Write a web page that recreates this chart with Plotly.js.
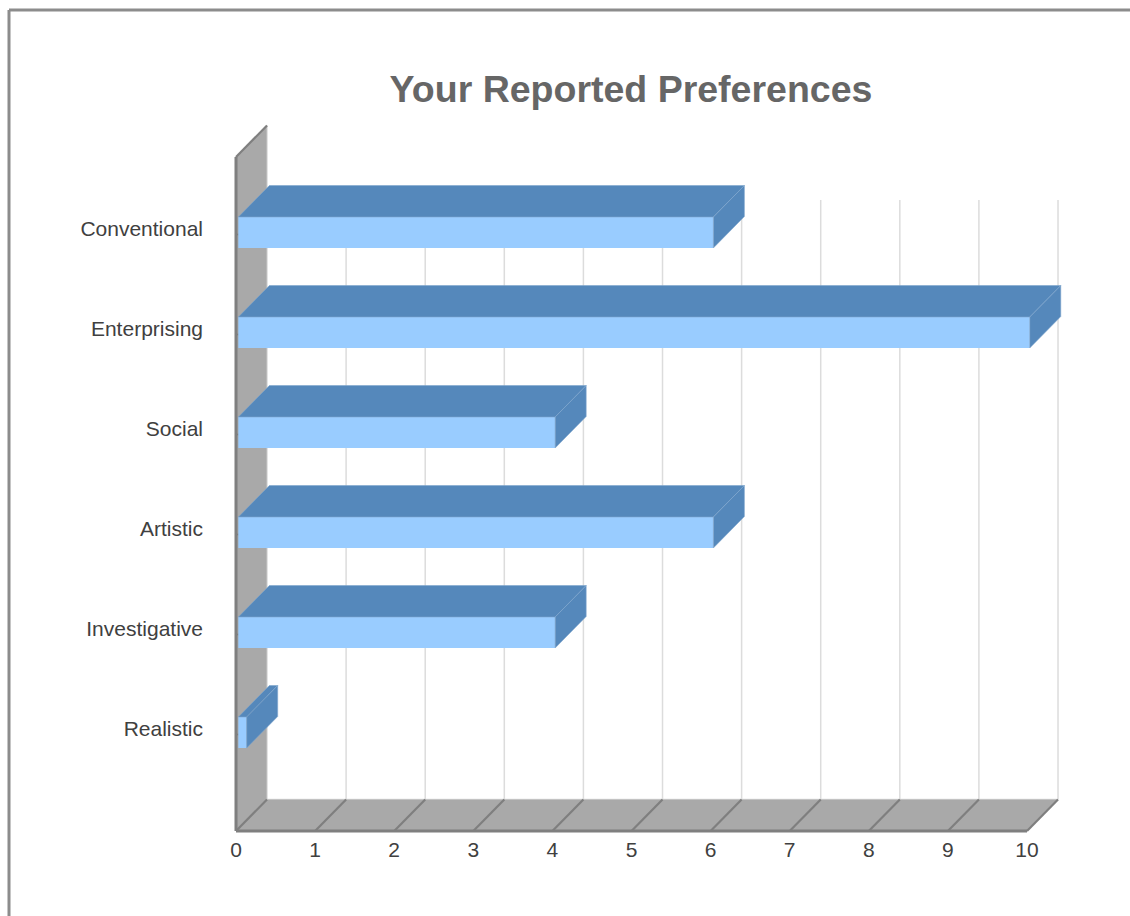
<!DOCTYPE html>
<html>
<head>
<meta charset="utf-8">
<script src="https://cdn.plot.ly/plotly-3.0.1.min.js"></script>
<style>html,body{margin:0;padding:0;background:#fff;overflow:hidden}#chart{width:1130px;height:916px}</style>
</head>
<body>
<div id="chart"></div>
<script>
// Data
const categories = ["Realistic", "Investigative", "Artistic", "Social", "Enterprising", "Conventional"];
const values = [0.1, 4, 6, 4, 10, 6];
const xTicks = [0, 1, 2, 3, 4, 5, 6, 7, 8, 9, 10];
const chartTitle = "Your Reported Preferences";

// Pseudo-3D constants in axis units
const DX = 0.392, DY = 0.315;
const BAR_START = 0.03, BAR_END_PAD = 0.035, BAR_H = 0.31;
const WALL_TOP = 5.755, FLOOR = -0.985, GRID_TOP = 5.325;
const XMAX = xTicks[xTicks.length - 1];

const W = 1130, H = 916;
const mL = 226, mR = 66, mT = 120, mB = 81;
const pxPerX = 79.1, pxPerY = 100;
const xRange = [-(236 - mL) / pxPerX, (W - mR - 236) / pxPerX];
const yRange = [(732.5 - (H - mB)) / pxPerY, (732.5 - mT) / pxPerY];
const px = p => (p - mL) / (W - mL - mR);
const py = p => 1 - (p - mT) / (H - mT - mB);

const cat = categories.map((_, i) => i);
const FRONT = "#99ccff", DARK = "#5588bb", EDGE = "#7fa6cc";
const WALL = "#a9a9a9", AXIS = "#7f7f7f", GRID = "#dcdcdc";

const topX = [], topY = [], sideX = [], sideY = [];
values.forEach((v, i) => {
  const x0 = BAR_START, x1 = v + BAR_END_PAD, yT = i + BAR_H / 2, yB = i - BAR_H / 2;
  topX.push(x0, x1, x1 + DX, x0 + DX, x0, null);
  topY.push(yT, yT, yT + DY, yT + DY, yT, null);
  sideX.push(x1, x1 + DX, x1 + DX, x1, x1, null);
  sideY.push(yT, yT + DY, yB + DY, yB, yT, null);
});

const traces = [
  { type: "bar", orientation: "h", y: cat, x: values.map(v => v + BAR_END_PAD - BAR_START), base: BAR_START,
    width: BAR_H, marker: { color: FRONT, line: { width: 0 } }, hoverinfo: "skip", showlegend: false },
  { type: "scatter", mode: "lines", x: topX, y: topY, fill: "toself", fillcolor: DARK,
    line: { color: EDGE, width: 0.6 }, hoverinfo: "skip", showlegend: false },
  { type: "scatter", mode: "lines", x: sideX, y: sideY, fill: "toself", fillcolor: DARK,
    line: { color: EDGE, width: 0.6 }, hoverinfo: "skip", showlegend: false }
];

const line = (x0, y0, x1, y1, color, width) => ({ type: "line", xref: "x", yref: "y", x0, y0, x1, y1, layer: "below", line: { color, width } });
const poly = (pts, color) => ({ type: "path", xref: "x", yref: "y", layer: "below", fillcolor: color, line: { width: 0 },
  path: "M" + pts.map(p => p.join(",")).join("L") + "Z" });

const shapes = [];
// grid on the back wall
xTicks.forEach(t => { if (t > 0) shapes.push(line(t + DX, FLOOR + DY, t + DX, GRID_TOP, GRID, 1.5)); });
shapes.push(line(DX, FLOOR + DY, XMAX + DX, FLOOR + DY, GRID, 1.5));
// side wall and floor
shapes.push(poly([[0, WALL_TOP], [DX, WALL_TOP + DY], [DX, FLOOR + DY], [0, FLOOR]], WALL));
shapes.push(poly([[0, FLOOR], [DX, FLOOR + DY], [XMAX + DX, FLOOR + DY], [XMAX, FLOOR]], WALL));
shapes.push(line(DX, WALL_TOP + DY, DX, FLOOR + DY, "#c8c8c8", 1));
// floor diagonals
xTicks.forEach(t => shapes.push(line(t, FLOOR, t + DX, FLOOR + DY, AXIS, 2.2)));
// axis edges
shapes.push(line(0, FLOOR, 0, WALL_TOP, AXIS, 3));
shapes.push(line(0, WALL_TOP, DX, WALL_TOP + DY, AXIS, 2.2));
shapes.push(line(0, FLOOR, XMAX, FLOOR, AXIS, 3));
// little y ticks
cat.forEach(i => shapes.push(line(0, i - 0.02, 0.03, i - 0.02, AXIS, 1.5)));
// outer frame (cropped by the page on the right and bottom)
const frame = (x0, y0, x1, y1) => ({ type: "line", xref: "paper", yref: "paper", x0: px(x0), y0: py(y0), x1: px(x1), y1: py(y1),
  layer: "below", line: { color: "#8c8c8c", width: 3 } });
shapes.push(frame(9, 10, 1130, 10));
shapes.push(frame(9, 10, 9, 916));

const font = { family: "'Liberation Sans', Arial, sans-serif", size: 21, color: "#404040" };

const layout = {
  width: W, height: H,
  margin: { l: mL, r: mR, t: mT, b: mB, pad: 0 },
  paper_bgcolor: "#fff", plot_bgcolor: "rgba(0,0,0,0)",
  showlegend: false, hovermode: false,
  title: { text: "<b>" + chartTitle + "</b>", x: 631 / W, xref: "container", xanchor: "center", y: 1 - 89 / H, yref: "container", yanchor: "middle",
    font: { family: font.family, size: 37.5, color: "#666666" } },
  xaxis: { range: xRange, tickmode: "array", tickvals: xTicks, ticktext: xTicks.map(String), showgrid: false, zeroline: false,
    showline: false, ticks: "", tickfont: font, ticklabelstandoff: 0 },
  yaxis: { range: yRange, tickmode: "array", tickvals: cat.map(i => i + 0.035), ticktext: categories, showgrid: false, zeroline: false,
    showline: false, ticks: "", tickfont: font, ticklabelstandoff: 22 },
  shapes
};

Plotly.newPlot("chart", traces, layout, { displayModeBar: false, staticPlot: true });
</script>
</body>
</html>
